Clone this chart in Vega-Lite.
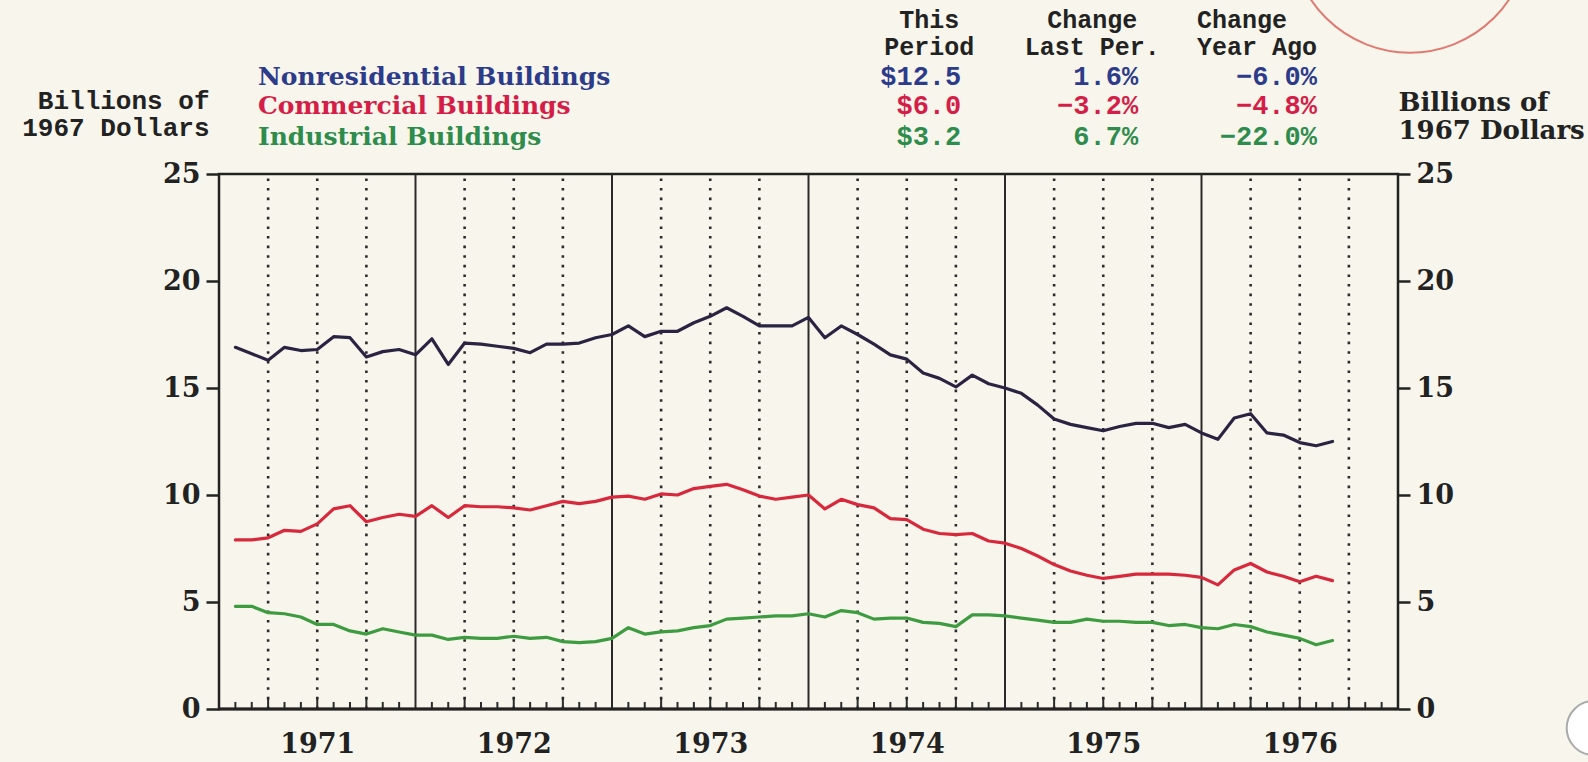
{
  "$schema": "https://vega.github.io/schema/vega-lite/v6.json",
  "width": 1179,
  "height": 535,
  "autosize": {"type": "none"},
  "padding": {"left": 219, "top": 174, "right": 190, "bottom": 53},
  "background": "#f8f6ec",
  "config": {"view": {"stroke": "#222222", "strokeWidth": 2.5}, "font": "DejaVu Serif"},
  "datasets": {
    "calendar": [
      {"month": 0}, {"month": 1}, {"month": 2}, {"month": 3}, {"month": 4}, {"month": 5}, {"month": 6}, {"month": 7}, {"month": 8}, {"month": 9}, {"month": 10}, {"month": 11},
      {"month": 12}, {"month": 13}, {"month": 14}, {"month": 15}, {"month": 16}, {"month": 17}, {"month": 18}, {"month": 19}, {"month": 20}, {"month": 21}, {"month": 22}, {"month": 23},
      {"month": 24}, {"month": 25}, {"month": 26}, {"month": 27}, {"month": 28}, {"month": 29}, {"month": 30}, {"month": 31}, {"month": 32}, {"month": 33}, {"month": 34}, {"month": 35},
      {"month": 36}, {"month": 37}, {"month": 38}, {"month": 39}, {"month": 40}, {"month": 41}, {"month": 42}, {"month": 43}, {"month": 44}, {"month": 45}, {"month": 46}, {"month": 47},
      {"month": 48}, {"month": 49}, {"month": 50}, {"month": 51}, {"month": 52}, {"month": 53}, {"month": 54}, {"month": 55}, {"month": 56}, {"month": 57}, {"month": 58}, {"month": 59},
      {"month": 60}, {"month": 61}, {"month": 62}, {"month": 63}, {"month": 64}, {"month": 65}, {"month": 66}, {"month": 67}, {"month": 68}, {"month": 69}, {"month": 70}, {"month": 71},
      {"month": 72}
    ],
    "buildings": [
      {"month": 1, "nonresidential": 16.9, "commercial": 7.9, "industrial": 4.8},
      {"month": 2, "nonresidential": 16.6, "commercial": 7.9, "industrial": 4.8},
      {"month": 3, "nonresidential": 16.3, "commercial": 8.0, "industrial": 4.5},
      {"month": 4, "nonresidential": 16.9, "commercial": 8.35, "industrial": 4.45},
      {"month": 5, "nonresidential": 16.75, "commercial": 8.3, "industrial": 4.3},
      {"month": 6, "nonresidential": 16.8, "commercial": 8.65, "industrial": 3.95},
      {"month": 7, "nonresidential": 17.4, "commercial": 9.35, "industrial": 3.95},
      {"month": 8, "nonresidential": 17.35, "commercial": 9.5, "industrial": 3.65},
      {"month": 9, "nonresidential": 16.45, "commercial": 8.75, "industrial": 3.5},
      {"month": 10, "nonresidential": 16.7, "commercial": 8.95, "industrial": 3.75},
      {"month": 11, "nonresidential": 16.8, "commercial": 9.1, "industrial": 3.6},
      {"month": 12, "nonresidential": 16.55, "commercial": 9.0, "industrial": 3.45},
      {"month": 13, "nonresidential": 17.3, "commercial": 9.5, "industrial": 3.45},
      {"month": 14, "nonresidential": 16.1, "commercial": 8.95, "industrial": 3.25},
      {"month": 15, "nonresidential": 17.1, "commercial": 9.5, "industrial": 3.35},
      {"month": 16, "nonresidential": 17.05, "commercial": 9.45, "industrial": 3.3},
      {"month": 17, "nonresidential": 16.95, "commercial": 9.45, "industrial": 3.3},
      {"month": 18, "nonresidential": 16.85, "commercial": 9.4, "industrial": 3.4},
      {"month": 19, "nonresidential": 16.65, "commercial": 9.3, "industrial": 3.3},
      {"month": 20, "nonresidential": 17.05, "commercial": 9.5, "industrial": 3.35},
      {"month": 21, "nonresidential": 17.05, "commercial": 9.7, "industrial": 3.15},
      {"month": 22, "nonresidential": 17.1, "commercial": 9.6, "industrial": 3.1},
      {"month": 23, "nonresidential": 17.35, "commercial": 9.7, "industrial": 3.15},
      {"month": 24, "nonresidential": 17.5, "commercial": 9.9, "industrial": 3.3},
      {"month": 25, "nonresidential": 17.9, "commercial": 9.95, "industrial": 3.8},
      {"month": 26, "nonresidential": 17.4, "commercial": 9.8, "industrial": 3.5},
      {"month": 27, "nonresidential": 17.65, "commercial": 10.05, "industrial": 3.6},
      {"month": 28, "nonresidential": 17.65, "commercial": 10.0, "industrial": 3.65},
      {"month": 29, "nonresidential": 18.05, "commercial": 10.3, "industrial": 3.8},
      {"month": 30, "nonresidential": 18.35, "commercial": 10.4, "industrial": 3.9},
      {"month": 31, "nonresidential": 18.75, "commercial": 10.5, "industrial": 4.2},
      {"month": 32, "nonresidential": 18.35, "commercial": 10.25, "industrial": 4.25},
      {"month": 33, "nonresidential": 17.9, "commercial": 9.95, "industrial": 4.3},
      {"month": 34, "nonresidential": 17.9, "commercial": 9.8, "industrial": 4.35},
      {"month": 35, "nonresidential": 17.9, "commercial": 9.9, "industrial": 4.35},
      {"month": 36, "nonresidential": 18.3, "commercial": 10.0, "industrial": 4.45},
      {"month": 37, "nonresidential": 17.35, "commercial": 9.35, "industrial": 4.3},
      {"month": 38, "nonresidential": 17.9, "commercial": 9.8, "industrial": 4.6},
      {"month": 39, "nonresidential": 17.5, "commercial": 9.55, "industrial": 4.5},
      {"month": 40, "nonresidential": 17.05, "commercial": 9.4, "industrial": 4.2},
      {"month": 41, "nonresidential": 16.55, "commercial": 8.9, "industrial": 4.25},
      {"month": 42, "nonresidential": 16.35, "commercial": 8.85, "industrial": 4.25},
      {"month": 43, "nonresidential": 15.7, "commercial": 8.4, "industrial": 4.05},
      {"month": 44, "nonresidential": 15.45, "commercial": 8.2, "industrial": 4.0},
      {"month": 45, "nonresidential": 15.05, "commercial": 8.15, "industrial": 3.85},
      {"month": 46, "nonresidential": 15.6, "commercial": 8.2, "industrial": 4.4},
      {"month": 47, "nonresidential": 15.2, "commercial": 7.85, "industrial": 4.4},
      {"month": 48, "nonresidential": 15.0, "commercial": 7.75, "industrial": 4.35},
      {"month": 49, "nonresidential": 14.75, "commercial": 7.5, "industrial": 4.25},
      {"month": 50, "nonresidential": 14.2, "commercial": 7.15, "industrial": 4.15},
      {"month": 51, "nonresidential": 13.55, "commercial": 6.75, "industrial": 4.05},
      {"month": 52, "nonresidential": 13.3, "commercial": 6.45, "industrial": 4.05},
      {"month": 53, "nonresidential": 13.15, "commercial": 6.25, "industrial": 4.2},
      {"month": 54, "nonresidential": 13.0, "commercial": 6.1, "industrial": 4.1},
      {"month": 55, "nonresidential": 13.2, "commercial": 6.2, "industrial": 4.1},
      {"month": 56, "nonresidential": 13.35, "commercial": 6.3, "industrial": 4.05},
      {"month": 57, "nonresidential": 13.35, "commercial": 6.3, "industrial": 4.05},
      {"month": 58, "nonresidential": 13.15, "commercial": 6.3, "industrial": 3.9},
      {"month": 59, "nonresidential": 13.3, "commercial": 6.25, "industrial": 3.95},
      {"month": 60, "nonresidential": 12.9, "commercial": 6.15, "industrial": 3.8},
      {"month": 61, "nonresidential": 12.6, "commercial": 5.8, "industrial": 3.75},
      {"month": 62, "nonresidential": 13.6, "commercial": 6.5, "industrial": 3.95},
      {"month": 63, "nonresidential": 13.8, "commercial": 6.8, "industrial": 3.85},
      {"month": 64, "nonresidential": 12.9, "commercial": 6.4, "industrial": 3.6},
      {"month": 65, "nonresidential": 12.8, "commercial": 6.2, "industrial": 3.45},
      {"month": 66, "nonresidential": 12.45, "commercial": 5.95, "industrial": 3.3},
      {"month": 67, "nonresidential": 12.3, "commercial": 6.2, "industrial": 3.0},
      {"month": 68, "nonresidential": 12.5, "commercial": 6.0, "industrial": 3.2}
    ],
    "summary": [
      {"series": "Nonresidential Buildings", "thisPeriod": 12.5, "changeLastPeriod": 0.016, "changeYearAgo": -0.06},
      {"series": "Commercial Buildings", "thisPeriod": 6.0, "changeLastPeriod": -0.032, "changeYearAgo": -0.048},
      {"series": "Industrial Buildings", "thisPeriod": 3.2, "changeLastPeriod": 0.067, "changeYearAgo": -0.22}
    ]
  },
  "resolve": {"axis": {"x": "independent", "y": "independent"}},
  "layer": [
    {
      "data": {"name": "calendar"},
      "transform": [{"filter": "datum.month % 12 === 0 && datum.month > 0 && datum.month < 72"}],
      "mark": {"type": "rule", "color": "#2a2a2a", "strokeWidth": 2},
      "encoding": {
        "x": {"field": "month", "type": "quantitative", "axis": null},
        "y": {"datum": 0, "type": "quantitative", "axis": null},
        "y2": {"datum": 25}
      }
    },
    {
      "data": {"name": "calendar"},
      "transform": [{"filter": "datum.month % 3 === 0 && datum.month % 12 !== 0"}],
      "mark": {"type": "rule", "color": "#2a2a2a", "strokeWidth": 2.6, "strokeDash": [2.6, 7]},
      "encoding": {
        "x": {"field": "month", "type": "quantitative", "axis": null},
        "y": {"datum": 0, "type": "quantitative", "axis": null},
        "y2": {"datum": 25}
      }
    },
    {
      "data": {"name": "calendar"},
      "transform": [{"filter": "datum.month % 3 !== 0"}],
      "mark": {"type": "rule", "color": "#2a2a2a", "strokeWidth": 2},
      "encoding": {
        "x": {"field": "month", "type": "quantitative", "axis": null},
        "y": {"datum": 0, "type": "quantitative", "axis": null},
        "y2": {"datum": 0.33}
      }
    },
    {
      "data": {"name": "calendar"},
      "transform": [{"filter": "datum.month % 3 === 0 && datum.month % 12 !== 0"}],
      "mark": {"type": "rule", "color": "#2a2a2a", "strokeWidth": 2},
      "encoding": {
        "x": {"field": "month", "type": "quantitative", "axis": null},
        "y": {"datum": 0, "type": "quantitative", "axis": null},
        "y2": {"datum": 0.52}
      }
    },
    {
      "data": {"name": "buildings"},
      "transform": [{"fold": ["nonresidential", "commercial", "industrial"], "as": ["series", "value"]}],
      "mark": {"type": "line", "strokeWidth": 3.2, "strokeJoin": "round", "strokeCap": "round"},
      "encoding": {
        "x": {
          "field": "month", "type": "quantitative",
          "scale": {"domain": [0, 72], "nice": false, "zero": false},
          "axis": {
            "orient": "bottom", "title": null, "domain": false, "grid": false, "ticks": false,
            "values": [6, 18, 30, 42, 54, 66],
            "labelExpr": "'' + (1971 + floor(datum.value / 12))",
            "labelFont": "DejaVu Serif", "labelFontWeight": "bold", "labelFontSize": 27, "labelColor": "#222222",
            "labelPadding": 22, "labelOverlap": false, "labelFlush": false
          }
        },
        "y": {
          "field": "value", "type": "quantitative",
          "scale": {"domain": [0, 25], "nice": false},
          "axis": {
            "orient": "left", "values": [0, 5, 10, 15, 20, 25], "grid": false, "domain": false,
            "tickSize": 13, "tickWidth": 2.5, "tickColor": "#222222",
            "labelFont": "DejaVu Serif", "labelFontWeight": "bold", "labelFontSize": 27, "labelColor": "#222222", "labelPadding": 6,
            "title": ["Billions of", "1967 Dollars"],
            "titleAngle": 0, "titleAlign": "right", "titleBaseline": "top", "titleX": -10, "titleY": -87,
            "titleFont": "Liberation Mono", "titleFontWeight": "bold", "titleFontSize": 26, "titleLineHeight": 27, "titleColor": "#222222"
          }
        },
        "color": {
          "field": "series", "type": "nominal", "legend": null,
          "scale": {"domain": ["nonresidential", "commercial", "industrial"], "range": ["#2a2442", "#d8283c", "#3d9b40"]}
        }
      }
    },
    {
      "data": {"values": [{}]},
      "mark": {"type": "rule", "color": "#222222", "strokeWidth": 3},
      "encoding": {
        "y": {
          "datum": 0, "type": "quantitative",
          "axis": {
            "orient": "right", "values": [0, 5, 10, 15, 20, 25], "grid": false, "domain": false,
            "tickSize": 12, "tickWidth": 2.5, "tickColor": "#222222",
            "labelFont": "DejaVu Serif", "labelFontWeight": "bold", "labelFontSize": 27, "labelColor": "#222222", "labelPadding": 6,
            "title": ["Billions of", "1967 Dollars"],
            "titleAngle": 0, "titleAlign": "left", "titleBaseline": "top", "titleX": 0, "titleY": -85,
            "titleFont": "DejaVu Serif", "titleFontWeight": "bold", "titleFontSize": 26, "titleLineHeight": 28, "titleColor": "#222222"
          }
        }
      }
    },
    {
      "data": {"name": "summary"},
      "transform": [{"filter": "datum.series === 'Nonresidential Buildings'"}],
      "mark": {"type": "text", "align": "left", "baseline": "middle", "font": "DejaVu Serif", "fontWeight": "bold", "fontSize": 25, "color": "#2c3b8a"},
      "encoding": {"x": {"datum": 2.38, "type": "quantitative", "axis": null}, "y": {"datum": 29.52, "type": "quantitative", "axis": null}, "text": {"field": "series", "type": "nominal"}}
    },
    {
      "data": {"name": "summary"},
      "transform": [{"filter": "datum.series === 'Commercial Buildings'"}],
      "mark": {"type": "text", "align": "left", "baseline": "middle", "font": "DejaVu Serif", "fontWeight": "bold", "fontSize": 25, "color": "#d41e48"},
      "encoding": {"x": {"datum": 2.38, "type": "quantitative", "axis": null}, "y": {"datum": 28.19, "type": "quantitative", "axis": null}, "text": {"field": "series", "type": "nominal"}}
    },
    {
      "data": {"name": "summary"},
      "transform": [{"filter": "datum.series === 'Industrial Buildings'"}],
      "mark": {"type": "text", "align": "left", "baseline": "middle", "font": "DejaVu Serif", "fontWeight": "bold", "fontSize": 25, "color": "#2e8c4c"},
      "encoding": {"x": {"datum": 2.38, "type": "quantitative", "axis": null}, "y": {"datum": 26.75, "type": "quantitative", "axis": null}, "text": {"field": "series", "type": "nominal"}}
    },
    {
      "data": {"name": "summary"},
      "transform": [{"filter": "datum.series === 'Nonresidential Buildings'"}],
      "mark": {"type": "text", "align": "right", "baseline": "middle", "font": "Liberation Mono", "fontWeight": "bold", "fontSize": 27, "color": "#2c3b8a"},
      "encoding": {"x": {"datum": 45.33, "type": "quantitative", "axis": null}, "y": {"datum": 29.52, "type": "quantitative", "axis": null}, "text": {"field": "thisPeriod", "type": "quantitative", "format": "$.1f"}}
    },
    {
      "data": {"name": "summary"},
      "transform": [{"filter": "datum.series === 'Nonresidential Buildings'"}],
      "mark": {"type": "text", "align": "right", "baseline": "middle", "font": "Liberation Mono", "fontWeight": "bold", "fontSize": 27, "color": "#2c3b8a"},
      "encoding": {"x": {"datum": 56.13, "type": "quantitative", "axis": null}, "y": {"datum": 29.52, "type": "quantitative", "axis": null}, "text": {"field": "changeLastPeriod", "type": "quantitative", "format": ".1%"}}
    },
    {
      "data": {"name": "summary"},
      "transform": [{"filter": "datum.series === 'Nonresidential Buildings'"}],
      "mark": {"type": "text", "align": "right", "baseline": "middle", "font": "Liberation Mono", "fontWeight": "bold", "fontSize": 27, "color": "#2c3b8a"},
      "encoding": {"x": {"datum": 67.05, "type": "quantitative", "axis": null}, "y": {"datum": 29.52, "type": "quantitative", "axis": null}, "text": {"field": "changeYearAgo", "type": "quantitative", "format": ".1%"}}
    },
    {
      "data": {"name": "summary"},
      "transform": [{"filter": "datum.series === 'Commercial Buildings'"}],
      "mark": {"type": "text", "align": "right", "baseline": "middle", "font": "Liberation Mono", "fontWeight": "bold", "fontSize": 27, "color": "#d41e48"},
      "encoding": {"x": {"datum": 45.33, "type": "quantitative", "axis": null}, "y": {"datum": 28.19, "type": "quantitative", "axis": null}, "text": {"field": "thisPeriod", "type": "quantitative", "format": "$.1f"}}
    },
    {
      "data": {"name": "summary"},
      "transform": [{"filter": "datum.series === 'Commercial Buildings'"}],
      "mark": {"type": "text", "align": "right", "baseline": "middle", "font": "Liberation Mono", "fontWeight": "bold", "fontSize": 27, "color": "#d41e48"},
      "encoding": {"x": {"datum": 56.13, "type": "quantitative", "axis": null}, "y": {"datum": 28.19, "type": "quantitative", "axis": null}, "text": {"field": "changeLastPeriod", "type": "quantitative", "format": ".1%"}}
    },
    {
      "data": {"name": "summary"},
      "transform": [{"filter": "datum.series === 'Commercial Buildings'"}],
      "mark": {"type": "text", "align": "right", "baseline": "middle", "font": "Liberation Mono", "fontWeight": "bold", "fontSize": 27, "color": "#d41e48"},
      "encoding": {"x": {"datum": 67.05, "type": "quantitative", "axis": null}, "y": {"datum": 28.19, "type": "quantitative", "axis": null}, "text": {"field": "changeYearAgo", "type": "quantitative", "format": ".1%"}}
    },
    {
      "data": {"name": "summary"},
      "transform": [{"filter": "datum.series === 'Industrial Buildings'"}],
      "mark": {"type": "text", "align": "right", "baseline": "middle", "font": "Liberation Mono", "fontWeight": "bold", "fontSize": 27, "color": "#2e8c4c"},
      "encoding": {"x": {"datum": 45.33, "type": "quantitative", "axis": null}, "y": {"datum": 26.75, "type": "quantitative", "axis": null}, "text": {"field": "thisPeriod", "type": "quantitative", "format": "$.1f"}}
    },
    {
      "data": {"name": "summary"},
      "transform": [{"filter": "datum.series === 'Industrial Buildings'"}],
      "mark": {"type": "text", "align": "right", "baseline": "middle", "font": "Liberation Mono", "fontWeight": "bold", "fontSize": 27, "color": "#2e8c4c"},
      "encoding": {"x": {"datum": 56.13, "type": "quantitative", "axis": null}, "y": {"datum": 26.75, "type": "quantitative", "axis": null}, "text": {"field": "changeLastPeriod", "type": "quantitative", "format": ".1%"}}
    },
    {
      "data": {"name": "summary"},
      "transform": [{"filter": "datum.series === 'Industrial Buildings'"}],
      "mark": {"type": "text", "align": "right", "baseline": "middle", "font": "Liberation Mono", "fontWeight": "bold", "fontSize": 27, "color": "#2e8c4c"},
      "encoding": {"x": {"datum": 67.05, "type": "quantitative", "axis": null}, "y": {"datum": 26.75, "type": "quantitative", "axis": null}, "text": {"field": "changeYearAgo", "type": "quantitative", "format": ".1%"}}
    },
    {
      "data": {"values": [{}]},
      "mark": {"type": "text", "align": "center", "baseline": "top", "lineHeight": 27, "font": "Liberation Mono", "fontWeight": "bold", "fontSize": 25, "color": "#222222"},
      "encoding": {"x": {"datum": 43.38, "type": "quantitative", "axis": null}, "y": {"datum": 32.74, "type": "quantitative", "axis": null}, "text": {"value": ["This", "Period"]}}
    },
    {
      "data": {"values": [{}]},
      "mark": {"type": "text", "align": "center", "baseline": "top", "lineHeight": 27, "font": "Liberation Mono", "fontWeight": "bold", "fontSize": 25, "color": "#222222"},
      "encoding": {"x": {"datum": 53.33, "type": "quantitative", "axis": null}, "y": {"datum": 32.74, "type": "quantitative", "axis": null}, "text": {"value": ["Change", "Last Per."]}}
    },
    {
      "data": {"values": [{}]},
      "mark": {"type": "text", "align": "left", "baseline": "top", "lineHeight": 27, "font": "Liberation Mono", "fontWeight": "bold", "fontSize": 25, "color": "#222222"},
      "encoding": {"x": {"datum": 59.73, "type": "quantitative", "axis": null}, "y": {"datum": 32.74, "type": "quantitative", "axis": null}, "text": {"value": ["Change", "Year Ago"]}}
    },
    {
      "data": {"values": [{}]},
      "mark": {"type": "point", "shape": "circle", "filled": false, "stroke": "#e07a70", "strokeWidth": 2, "size": 56644, "opacity": 1},
      "encoding": {"x": {"datum": 72.73, "type": "quantitative", "axis": null}, "y": {"datum": 36.23, "type": "quantitative", "axis": null}}
    },
    {
      "data": {"values": [{}]},
      "mark": {"type": "point", "shape": "circle", "filled": true, "fill": "#ffffff", "stroke": "#aaaaaa", "strokeWidth": 2, "size": 2916, "opacity": 1},
      "encoding": {"x": {"datum": 83.95, "type": "quantitative", "axis": null}, "y": {"datum": -0.89, "type": "quantitative", "axis": null}}
    }
  ]
}
